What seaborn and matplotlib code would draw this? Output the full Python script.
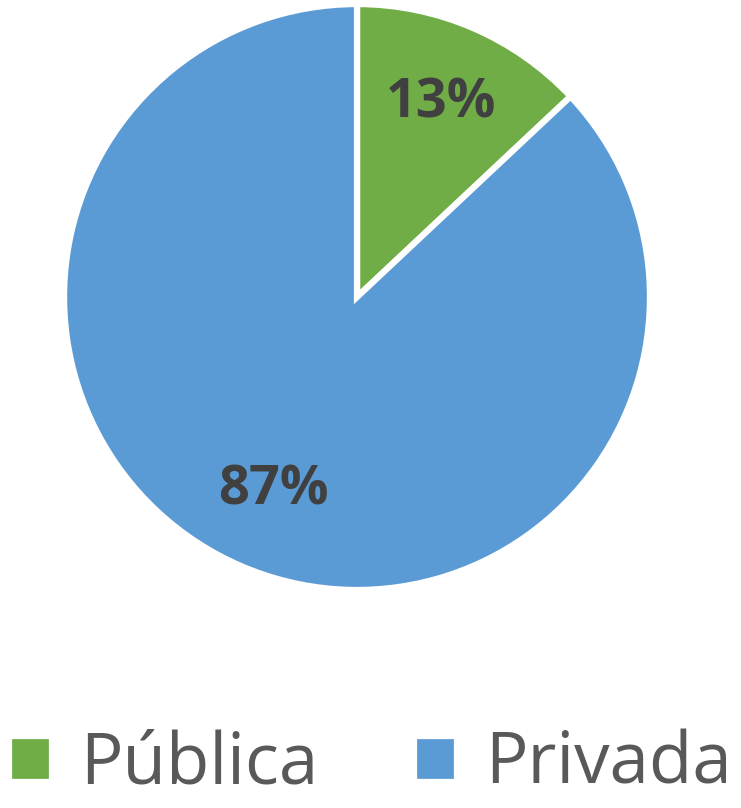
import matplotlib
matplotlib.use("Agg")
import matplotlib.pyplot as plt
import seaborn as sns

categorias = ["Pública", "Privada"]
valores = [13, 87]
colores = ["#70AD47", "#5B9BD5"]

sns.set_theme(style="white")
plt.rcParams['font.family'] = ['Open Sans', 'DejaVu Sans']

fig = plt.figure(figsize=(7.41, 8.08), dpi=100)
ax = fig.add_axes([0.0864, 0.2698, 0.7908, 0.7252])

wedges, textos, pcts = ax.pie(valores, colors=colores, startangle=90, counterclock=False,
                              autopct="%1.0f%%", pctdistance=0.72,
                              wedgeprops=dict(edgecolor="white", linewidth=4.5))
for t in pcts:
    t.set_fontsize(39)
    t.set_fontweight("bold")
    t.set_color("#404040")

ax.set_xlim(-1, 1)
ax.set_ylim(-1, 1)

fig.legend(wedges, categorias, loc="lower center", bbox_to_anchor=(0.5, -0.035), ncol=2,
           frameon=False, fontsize=51, labelcolor="#595959", handlelength=0.6, handleheight=0.62,
           handletextpad=0.4, columnspacing=1.35, borderpad=0.0)

fig.savefig("out.png", dpi=100)
